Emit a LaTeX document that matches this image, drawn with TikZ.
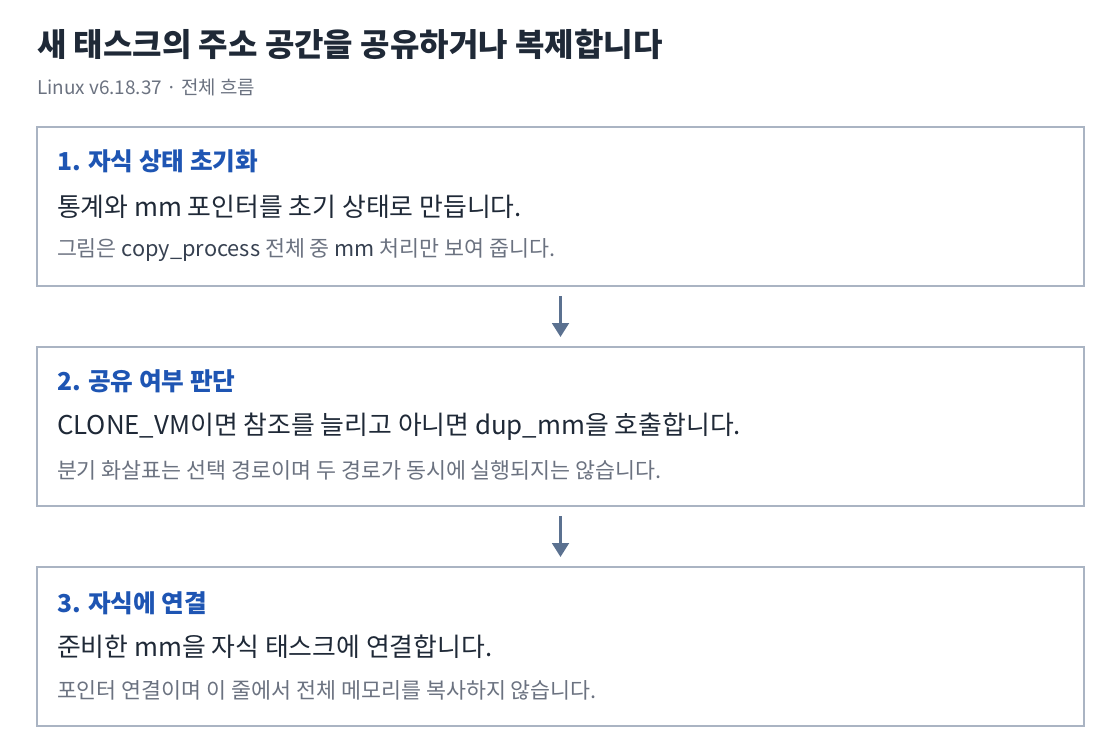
\documentclass[tikz,border=0pt]{standalone}
\usepackage{fontspec}
\setmainfont{Noto Sans CJK KR}
\usetikzlibrary{arrows.meta}
\definecolor{titlecol}{HTML}{1F2937}
\definecolor{subcol}{HTML}{6B7280}
\definecolor{headcol}{HTML}{1E55B3}
\definecolor{codecol}{HTML}{374151}
\definecolor{boxcol}{HTML}{AAB4C3}
\definecolor{arrowcol}{HTML}{5B7190}
\begin{document}
\begin{tikzpicture}[
    x=0.75pt, y=-0.75pt,
    every node/.style = {inner sep=0pt, outer sep=0pt, anchor=west},
    stepbox/.style = {draw=boxcol, line width=0.9pt, anchor=north west, minimum width=785.25pt, minimum height=119.25pt},
    headtext/.style = {font=\fontsize{18.5}{22}\selectfont\bfseries, text=headcol},
    maintext/.style = {font=\fontsize{19.4}{23}\selectfont, text=titlecol},
    notetext/.style = {font=\fontsize{16.3}{19}\selectfont, text=subcol},
    flow/.style = {draw=arrowcol, line width=2.2pt, -{Triangle[length=10.5pt, width=12.5pt]}, shorten <=7.5pt, shorten >=7.5pt}
    ]
    \useasboundingbox (0,0) rectangle (1120,754);
    \node[font=\fontsize{24}{28}\selectfont\bfseries, text=titlecol] (title) at (37,44) {새 태스크의 주소 공간을 공유하거나 복제합니다};
    \node[font=\fontsize{14.2}{17}\selectfont, text=subcol] (subtitle) at (37,87) {Linux v6.18.37 · 전체 흐름};
    % step 1
    \node[stepbox] (box1) at (37,127) {};
    \node[headtext] (head1) at (57,161) {1. 자식 상태 초기화};
    \node[maintext] (main1) at (57,207) {통계와 mm 포인터를 초기 상태로 만듭니다.};
    \node[notetext] (note1) at (57,250) {그림은 \textcolor{codecol}{copy\_process} 전체 중 \textcolor{codecol}{mm} 처리만 보여 줍니다.};
    % step 2
    \node[stepbox] (box2) at (37,347) {};
    \node[headtext] (head2) at (57,381) {2. 공유 여부 판단};
    \node[maintext] (main2) at (57,427) {CLONE\_VM이면 참조를 늘리고 아니면 dup\_mm을 호출합니다.};
    \node[notetext] (note2) at (57,470) {분기 화살표는 선택 경로이며 두 경로가 동시에 실행되지는 않습니다.};
    % step 3
    \node[stepbox] (box3) at (37,567) {};
    \node[headtext] (head3) at (57,603) {3. 자식에 연결};
    \node[maintext] (main3) at (57,647) {준비한 mm을 자식 태스크에 연결합니다.};
    \node[notetext] (note3) at (57,690) {포인터 연결이며 이 줄에서 전체 메모리를 복사하지 않습니다.};
    \draw[flow] (box1.south) -- (box2.north);
    \draw[flow] (box2.south) -- (box3.north);
\end{tikzpicture}
\end{document}
